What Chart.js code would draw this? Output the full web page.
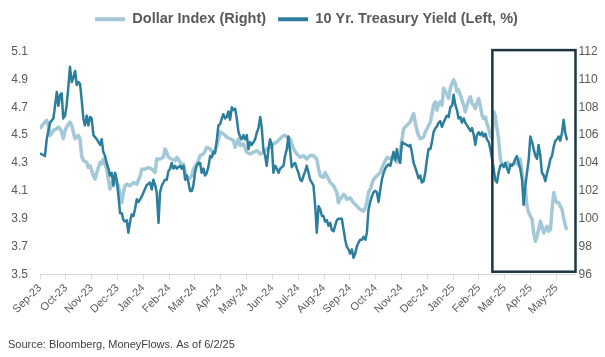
<!DOCTYPE html>
<html><head><meta charset="utf-8">
<script src="https://cdn.jsdelivr.net/npm/chart.js@4.4.1/dist/chart.umd.min.js"></script>
<style>html,body{margin:0;padding:0;background:#fff;}</style>
</head><body>
<canvas id="c" width="605" height="357"></canvas>
<script>
const monthLabels = ['Sep-23','Oct-23','Nov-23','Dec-23','Jan-24','Feb-24','Mar-24','Apr-24','May-24','Jun-24','Jul-24','Aug-24','Sep-24','Oct-24','Nov-24','Dec-24','Jan-25','Feb-25','Mar-25','Apr-25','May-25'];

// x positions in months after the first observation
const yieldMonths = [0.00,0.19,0.26,0.39,0.52,0.65,0.71,0.78,0.84,0.90,0.97,1.03,1.10,1.16,1.23,1.29,1.36,1.42,1.49,1.55,1.61,1.68,1.74,1.81,1.87,1.94,2.00,2.07,2.20,2.33,2.39,2.45,2.52,2.58,2.65,2.71,2.78,2.84,2.91,2.97,3.04,3.10,3.17,3.23,3.29,3.36,3.42,3.49,3.55,3.62,3.68,3.75,3.81,3.88,3.94,4.01,4.13,4.26,4.33,4.39,4.46,4.52,4.59,4.65,4.72,4.78,4.84,4.91,4.97,5.04,5.10,5.17,5.23,5.30,5.43,5.49,5.56,5.62,5.68,5.75,5.81,5.88,5.94,6.01,6.07,6.14,
6.20,6.26,6.33,6.39,6.46,6.52,6.59,6.65,6.72,6.78,6.85,6.91,6.98,7.04,7.10,7.17,7.23,7.30,7.36,7.43,7.49,7.56,7.62,7.69,7.75,7.81,7.88,7.94,8.01,8.07,8.14,8.20,8.27,8.33,8.40,8.46,8.53,8.59,8.65,8.72,8.78,8.85,8.91,8.98,9.04,9.11,9.17,9.24,9.30,9.37,9.43,9.49,9.56,9.62,9.69,9.75,9.82,9.88,9.95,10.01,10.08,10.14,10.21,10.27,10.33,10.40,10.46,10.59,10.66,10.72,10.79,10.85,10.92,10.98,11.04,11.11,11.17,11.24,11.30,11.37,11.43,11.50,11.56,11.69,11.76,11.82,11.88,11.95,12.01,12.08,12.14,12.21,12.27,12.34,12.40,12.47,12.53,12.60,12.66,12.72,
12.79,12.85,12.92,12.98,13.05,13.11,13.18,13.24,13.31,13.37,13.44,13.50,13.57,13.63,13.69,13.76,13.82,13.89,13.95,14.02,14.08,14.21,14.28,14.34,14.40,14.47,14.53,14.60,14.66,14.73,14.79,14.86,14.92,14.99,15.05,15.12,15.18,15.24,15.31,15.37,15.44,15.50,15.57,15.63,15.70,15.76,15.83,15.89,15.96,16.02,16.08,16.15,16.21,16.28,16.34,16.41,16.47,16.54,16.67,16.73,16.80,16.86,16.92,16.99,17.05,17.12,17.18,17.25,17.31,17.38,17.44,17.51,17.57,17.63,17.70,17.76,17.83,17.89,17.96,18.02,18.09,18.15,18.22,18.28,18.35,18.41,18.47,18.54,18.60,18.67,18.73,18.80,18.86,18.93,18.99,19.06,19.12,19.19,19.25,19.31,19.38,19.44,19.51,19.57,19.64,19.70,19.77,19.83,19.90,19.96,20.02,20.09,20.15,20.22,20.28,20.35,20.41,20.44];
const yieldValues = [4.37,4.35,4.47,4.59,4.62,4.81,4.71,4.79,4.80,4.62,4.64,4.71,4.85,4.99,4.88,4.91,4.96,4.86,4.88,4.87,4.76,4.62,4.57,4.64,4.57,4.63,4.62,4.50,4.47,4.43,4.47,4.38,4.35,4.30,4.26,4.21,4.23,4.14,4.23,4.18,4.06,3.94,3.94,3.89,3.88,3.89,3.80,3.88,3.93,3.92,3.97,4.04,4.02,4.04,4.06,4.09,4.14,4.16,4.11,4.18,4.14,4.09,3.87,4.09,4.14,4.16,4.18,4.18,4.24,4.26,4.30,4.26,4.28,4.26,4.28,4.26,4.28,4.18,4.21,4.16,4.10,4.10,4.14,4.24,4.28,4.30,
4.30,4.23,4.26,4.21,4.23,4.27,4.35,4.34,4.38,4.37,4.47,4.57,4.58,4.62,4.65,4.62,4.63,4.67,4.61,4.70,4.68,4.69,4.62,4.52,4.49,4.47,4.50,4.47,4.50,4.40,4.45,4.43,4.45,4.47,4.52,4.55,4.63,4.55,4.40,4.35,4.28,4.40,4.47,4.43,4.23,4.28,4.26,4.23,4.26,4.27,4.28,4.35,4.40,4.49,4.38,4.27,4.29,4.30,4.26,4.23,4.18,4.17,4.21,4.24,4.28,4.23,4.18,4.14,3.99,3.80,3.99,3.97,3.92,3.92,3.88,3.89,3.85,3.87,3.82,3.81,3.85,3.89,3.90,3.90,3.82,3.75,3.70,3.68,3.65,3.68,3.62,3.65,3.70,3.73,3.75,3.75,3.77,3.75,3.80,3.96,
4.02,4.06,4.09,4.10,4.09,4.02,4.11,4.18,4.23,4.26,4.28,4.29,4.28,4.33,4.38,4.32,4.40,4.33,4.30,4.45,4.44,4.43,4.42,4.43,4.38,4.30,4.27,4.23,4.19,4.21,4.16,4.17,4.23,4.33,4.40,4.40,4.45,4.52,4.55,4.56,4.59,4.60,4.56,4.59,4.62,4.64,4.63,4.70,4.71,4.79,4.72,4.68,4.62,4.63,4.59,4.62,4.59,4.57,4.53,4.55,4.50,4.43,4.50,4.52,4.50,4.52,4.49,4.51,4.47,4.45,4.40,4.33,4.26,4.18,4.16,4.23,4.28,4.29,4.27,4.30,4.26,4.23,4.29,4.28,4.30,4.33,4.35,4.30,4.26,4.18,4.00,4.14,4.23,4.33,4.49,4.45,4.40,4.35,4.33,4.43,4.35,4.23,4.21,4.17,4.23,4.27,4.33,4.35,4.42,4.46,4.47,4.49,4.46,4.52,4.61,4.51,4.47,4.47];

const dollarMonths = [0.00,0.13,0.26,0.32,0.39,0.45,0.52,0.65,0.71,0.78,0.84,0.90,0.97,1.03,1.16,1.23,1.29,1.36,1.42,1.49,1.55,1.61,1.68,1.81,1.87,1.94,2.07,2.13,2.20,2.33,2.39,2.45,2.52,2.58,2.65,2.71,2.78,2.84,2.91,3.04,3.10,3.17,3.23,3.29,3.36,3.49,3.62,3.75,3.88,3.94,4.07,4.20,4.33,4.46,4.52,4.65,4.78,4.84,4.91,4.97,5.10,5.23,5.30,5.43,5.49,5.56,5.62,5.68,5.75,5.88,5.94,6.07,6.14,
6.20,6.33,6.46,6.59,6.72,6.85,6.98,7.10,7.23,7.36,7.49,7.56,7.62,7.69,7.75,7.88,8.01,8.14,8.27,8.40,8.53,8.65,8.78,8.91,9.04,9.17,9.30,9.43,9.49,9.56,9.69,9.82,9.95,10.08,10.21,10.33,10.46,10.59,10.72,10.79,10.85,10.98,11.04,11.11,11.24,11.37,11.50,11.56,11.62,11.76,11.82,11.88,12.01,12.14,12.27,12.40,12.53,12.60,12.66,12.72,12.79,
12.92,13.05,13.18,13.31,13.44,13.57,13.69,13.82,13.95,14.08,14.21,14.34,14.47,14.53,14.60,14.66,14.73,14.86,14.92,14.99,15.05,15.12,15.24,15.31,15.37,15.44,15.50,15.57,15.63,15.70,15.83,15.89,15.96,16.02,16.08,16.15,16.21,16.28,16.41,16.47,16.54,16.60,16.67,16.73,16.80,16.86,16.92,16.99,17.05,17.12,17.18,17.25,17.31,17.38,17.44,17.51,17.57,17.63,17.70,17.76,17.83,17.89,17.96,18.09,18.22,18.35,18.47,18.54,18.60,18.67,18.73,18.80,18.86,18.93,18.99,19.06,19.12,19.19,19.25,19.31,19.38,19.44,19.51,19.57,19.64,19.70,19.77,19.83,19.90,19.96,20.02,20.09,20.15,20.22,20.28,20.35,20.40];
const dollarValues = [106.46,106.82,107.06,106.70,105.98,106.10,106.34,106.46,106.58,106.46,106.22,105.74,106.34,106.58,106.94,106.70,106.22,105.74,105.86,105.98,105.74,104.53,104.17,104.05,103.68,103.80,103.08,102.84,103.32,104.05,103.93,104.29,103.93,103.56,102.84,102.12,102.60,102.36,102.84,102.36,101.63,101.15,101.88,102.36,102.48,102.36,102.60,102.48,103.08,103.56,103.56,103.68,103.56,103.32,104.29,104.29,104.41,105.01,104.77,104.41,104.29,104.17,104.41,104.05,103.68,103.93,103.32,103.08,102.84,103.08,103.56,103.93,104.20,
104.53,104.65,105.13,105.01,104.65,105.25,106.22,106.10,105.86,105.74,105.61,105.13,105.50,105.74,105.25,105.37,104.77,104.65,104.77,104.89,104.65,104.77,105.01,105.13,105.37,105.50,105.74,105.98,105.98,105.86,105.74,105.01,104.65,104.41,104.53,104.29,104.53,104.53,104.29,103.56,103.08,102.96,103.32,103.08,102.60,102.36,101.88,101.15,101.39,101.75,101.63,101.39,101.51,101.15,100.91,100.67,100.55,100.79,101.15,101.88,102.12,
102.84,103.08,103.32,103.93,104.41,104.29,104.53,104.05,104.77,106.46,106.70,106.94,107.54,106.94,106.34,105.98,105.74,105.86,106.22,106.46,106.70,106.94,108.14,108.39,107.79,108.27,108.39,108.14,109.36,109.12,108.63,109.36,109.72,109.96,109.72,109.12,109.24,108.87,108.14,107.67,108.14,108.51,108.75,108.27,108.14,107.91,108.27,108.63,108.14,107.43,107.18,107.30,106.82,106.46,105.98,105.74,107.67,107.43,106.50,105.74,104.29,103.93,103.80,104.05,103.80,103.93,104.05,103.80,104.29,103.32,102.36,102.12,100.91,100.43,100.19,99.95,98.98,98.38,98.74,99.22,99.82,99.46,98.98,99.22,99.46,99.10,99.22,100.67,101.88,101.39,101.15,101.15,100.91,100.67,100.07,99.50,99.20];

const leftMin = 3.5, leftMax = 5.1, leftStep = 0.2;
const rightMin = 96, rightMax = 112, rightStep = 2;
const xMax = 20.74;
const boxStartMonth = 17.52, boxTopValue = 5.11, boxBottomValue = 3.52;

const FONT = "'Liberation Sans', Arial, sans-serif";
const GRAY = '#595959';
const LIGHT = '#a3c8d8';
const DARK = '#2b7e9c';

const legendSpacer = {
  id: 'legendSpacer',
  beforeInit(chart) {
    const origFit = chart.legend.fit;
    chart.legend.fit = function () { origFit.bind(chart.legend)(); this.height += 15; };
  }
};
const boxPlugin = {
  id: 'highlightBox',
  afterDatasetsDraw(chart) {
    const x = chart.scales.x, y = chart.scales.yLeft, ctx = chart.ctx;
    const l = x.getPixelForValue(boxStartMonth), r = x.getPixelForValue(xMax);
    const t = y.getPixelForValue(boxTopValue), b = y.getPixelForValue(boxBottomValue);
    ctx.save();
    ctx.strokeStyle = '#1d3441';
    ctx.lineWidth = 2.5;
    ctx.strokeRect(l, t, r - l, b - t);
    ctx.restore();
  }
};

new Chart(document.getElementById('c'), {
  type: 'line',
  data: {
    datasets: [
      { label: 'Dollar Index (Right)', data: dollarMonths.map((m, i) => ({ x: m, y: dollarValues[i] })),
        yAxisID: 'yRight', borderColor: LIGHT, backgroundColor: LIGHT, borderWidth: 3.5,
        pointRadius: 0, tension: 0, borderJoinStyle: 'round', order: 2 },
      { label: '10 Yr. Treasury Yield (Left, %)', data: yieldMonths.map((m, i) => ({ x: m, y: yieldValues[i] })),
        yAxisID: 'yLeft', borderColor: DARK, backgroundColor: DARK, borderWidth: 2.5,
        pointRadius: 0, tension: 0, borderJoinStyle: 'round', order: 1 }
    ]
  },
  options: {
    responsive: false, animation: false, devicePixelRatio: 1, events: [],
    layout: { padding: { left: 8, right: 0, top: 0, bottom: 0 } },
    plugins: {
      legend: {
        position: 'top',
        labels: {
          boxWidth: 30, boxHeight: 4, padding: 12, color: GRAY,
          font: { family: FONT, size: 14.5, weight: 'bold' },
          sort: (a, b) => a.datasetIndex - b.datasetIndex,
          generateLabels(chart) {
            return Chart.defaults.plugins.legend.labels.generateLabels(chart).map(l => ({ ...l, fillStyle: l.strokeStyle, lineWidth: 0 }));
          }
        }
      },
      subtitle: {
        display: true, position: 'bottom', align: 'start',
        text: 'Source: Bloomberg, MoneyFlows. As of 6/2/25',
        color: '#404040', font: { family: FONT, size: 11, weight: 'normal' },
        padding: { top: 4, bottom: 5 }
      },
      tooltip: { enabled: false }
    },
    scales: {
      x: {
        type: 'linear', min: 0, max: xMax,
        ticks: {
          stepSize: 1, autoSkip: false, includeBounds: false, minRotation: 45, maxRotation: 45,
          padding: 2, color: GRAY, font: { family: FONT, size: 11 },
          callback: (v) => { const r = Math.round(v); return Math.abs(v - r) < 1e-6 && monthLabels[r] ? monthLabels[r] : ''; }
        },
        grid: { display: true, drawOnChartArea: false, drawTicks: true, tickLength: 5, color: '#d9d9d9' },
        border: { display: true, color: '#d9d9d9', width: 1 },
        afterFit(s) { s.height = 60.3; }
      },
      yLeft: {
        type: 'linear', position: 'left', min: leftMin, max: leftMax,
        ticks: { stepSize: leftStep, padding: 12, color: GRAY, font: { family: FONT, size: 12 }, callback: (v) => Number(v).toFixed(1) },
        grid: { display: false, drawTicks: false }, border: { display: false },
        afterFit(s) { s.width = 32; }
      },
      yRight: {
        type: 'linear', position: 'right', min: rightMin, max: rightMax,
        ticks: { stepSize: rightStep, padding: 3, color: GRAY, font: { family: FONT, size: 12 } },
        grid: { display: false, drawTicks: false }, border: { display: false },
        afterFit(s) { s.width = 29.5; }
      }
    }
  },
  plugins: [legendSpacer, boxPlugin]
});
</script>
</body></html>
